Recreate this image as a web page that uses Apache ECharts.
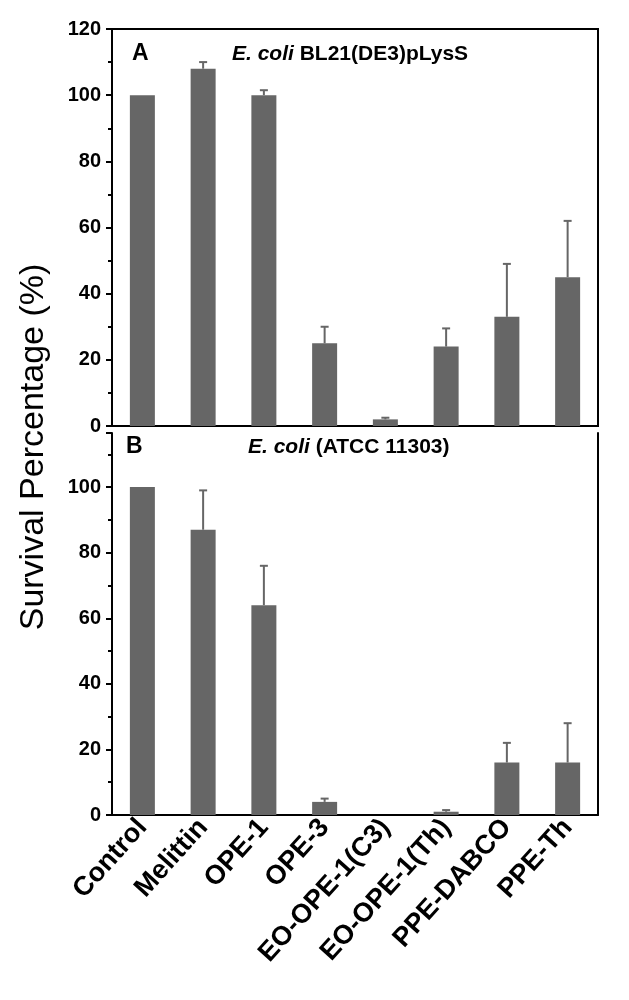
<!DOCTYPE html>
<html>
<head>
<meta charset="utf-8">
<script src="https://cdn.jsdelivr.net/npm/echarts@6/dist/echarts.min.js"></script>
<style>
  html, body { margin: 0; padding: 0; background: #fff; }
  #chart { width: 629px; height: 1000px; }
</style>
</head>
<body>
<div id="chart"></div>
<script>
// samples on the x axis
var categories = ['Control', 'Melittin', 'OPE-1', 'OPE-3', 'EO-OPE-1(C3)', 'EO-OPE-1(Th)', 'PPE-DABCO', 'PPE-Th'];

// panel A: E. coli BL21(DE3)pLysS
var survivalA = [100, 108, 100, 25, 2, 24, 33, 45];
var errorA = [0, 2, 1.5, 5, 0.5, 5.5, 16, 17];

// panel B: E. coli (ATCC 11303)
var survivalB = [100, 87, 64, 4, 0, 1, 16, 16];
var errorB = [0, 12, 12, 1, 0, 0.5, 6, 12];

var yTicksA = [0, 20, 40, 60, 80, 100, 120];
var yTicksB = [0, 20, 40, 60, 80, 100];

var font = 'Liberation Sans, Arial, sans-serif';
var barColor = '#666666';

var chart = echarts.init(document.getElementById('chart'));

var errorBars = function(vals, errs) {
    return function(params, api) {
        var i = api.value(0);
        if (!errs[i]) return;
        var base = api.coord([i, vals[i]]);
        var top = api.coord([i, vals[i] + errs[i]]);
        var style = { stroke: barColor, lineWidth: 2 };
        return {
            type: 'group',
            children: [
                { type: 'line', shape: { x1: base[0], y1: base[1], x2: top[0], y2: top[1] }, style: style },
                { type: 'line', shape: { x1: top[0] - 4, y1: top[1], x2: top[0] + 4, y2: top[1] }, style: style }
            ]
        };
    };
};

var yAxisCommon = function(ticks, grid, max) {
    return {
        type: 'value',
        gridIndex: grid,
        min: 0,
        max: max,
        interval: 20,
        axisLine: { show: true, lineStyle: { color: '#000', width: 2 } },
        axisTick: { show: true, inside: false, length: 6, lineStyle: { color: '#000', width: 2 } },
        minorTick: { show: true, splitNumber: 2, length: 4, lineStyle: { color: '#000', width: 2 } },
        splitLine: { show: false },
        axisLabel: {
            color: '#000', fontFamily: font, fontWeight: 'bold', fontSize: 20, margin: 11,
            formatter: function(v) { return ticks.indexOf(v) >= 0 ? String(v) : ''; }
        }
    };
};

var italicRich = { i: { fontStyle: 'italic', fontWeight: 'bold', fontSize: 21, fontFamily: font } };

var option = {
    backgroundColor: '#fff',
    animation: false,
    grid: [
        { left: 112, top: 29, width: 486, height: 397, show: true, borderColor: '#000', borderWidth: 2 },
        { left: 112, top: 433, width: 486, height: 382 }
    ],
    xAxis: [
        {
            type: 'category', gridIndex: 0, data: categories,
            axisLine: { lineStyle: { color: '#000', width: 2 } },
            axisTick: { show: false }, axisLabel: { show: false }
        },
        {
            type: 'category', gridIndex: 1, data: categories,
            axisLine: { lineStyle: { color: '#000', width: 2 } },
            axisTick: { show: false },
            axisLabel: {
                rotate: 48, interval: 0, margin: 8,
                color: '#000', fontFamily: font, fontWeight: 'bold', fontSize: 27
            }
        }
    ],
    yAxis: [
        yAxisCommon(yTicksA, 0, 120),
        yAxisCommon(yTicksB, 1, 116.5),
        {
            type: 'value', gridIndex: 1, position: 'right', min: 0, max: 116.5,
            axisLine: { show: true, lineStyle: { color: '#000', width: 2 } },
            axisTick: { show: false }, axisLabel: { show: false }, splitLine: { show: false }
        }
    ],
    graphic: [
        {
            type: 'text', x: 34, y: 447, rotation: Math.PI / 2,
            style: { text: 'Survival Percentage (%)', font: '34px ' + font, fill: '#000', textAlign: 'center', textVerticalAlign: 'middle' }
        },
        { type: 'text', x: 132, y: 54, style: { text: 'A', font: 'bold 23px ' + font, fill: '#000', textVerticalAlign: 'middle' } },
        {
            type: 'text', x: 232, y: 54,
            style: {
                text: '{i|E. coli} BL21(DE3)pLysS', textVerticalAlign: 'middle',
                font: 'bold 21px ' + font, fill: '#000', rich: italicRich
            }
        },
        { type: 'text', x: 126, y: 447, style: { text: 'B', font: 'bold 23px ' + font, fill: '#000', textVerticalAlign: 'middle' } },
        {
            type: 'text', x: 248, y: 447,
            style: {
                text: '{i|E. coli} (ATCC 11303)', textVerticalAlign: 'middle',
                font: 'bold 21px ' + font, fill: '#000', rich: italicRich
            }
        }
    ],
    series: [
        { type: 'bar', xAxisIndex: 0, yAxisIndex: 0, data: survivalA, barWidth: 25, itemStyle: { color: barColor } },
        {
            type: 'custom', xAxisIndex: 0, yAxisIndex: 0, z: 3,
            data: survivalA.map(function(v, i) { return [i, v + errorA[i]]; }),
            renderItem: errorBars(survivalA, errorA)
        },
        { type: 'bar', xAxisIndex: 1, yAxisIndex: 1, data: survivalB, barWidth: 25, itemStyle: { color: barColor } },
        {
            type: 'custom', xAxisIndex: 1, yAxisIndex: 1, z: 3,
            data: survivalB.map(function(v, i) { return [i, v + errorB[i]]; }),
            renderItem: errorBars(survivalB, errorB)
        }
    ]
};

chart.setOption(option);
</script>
</body>
</html>
